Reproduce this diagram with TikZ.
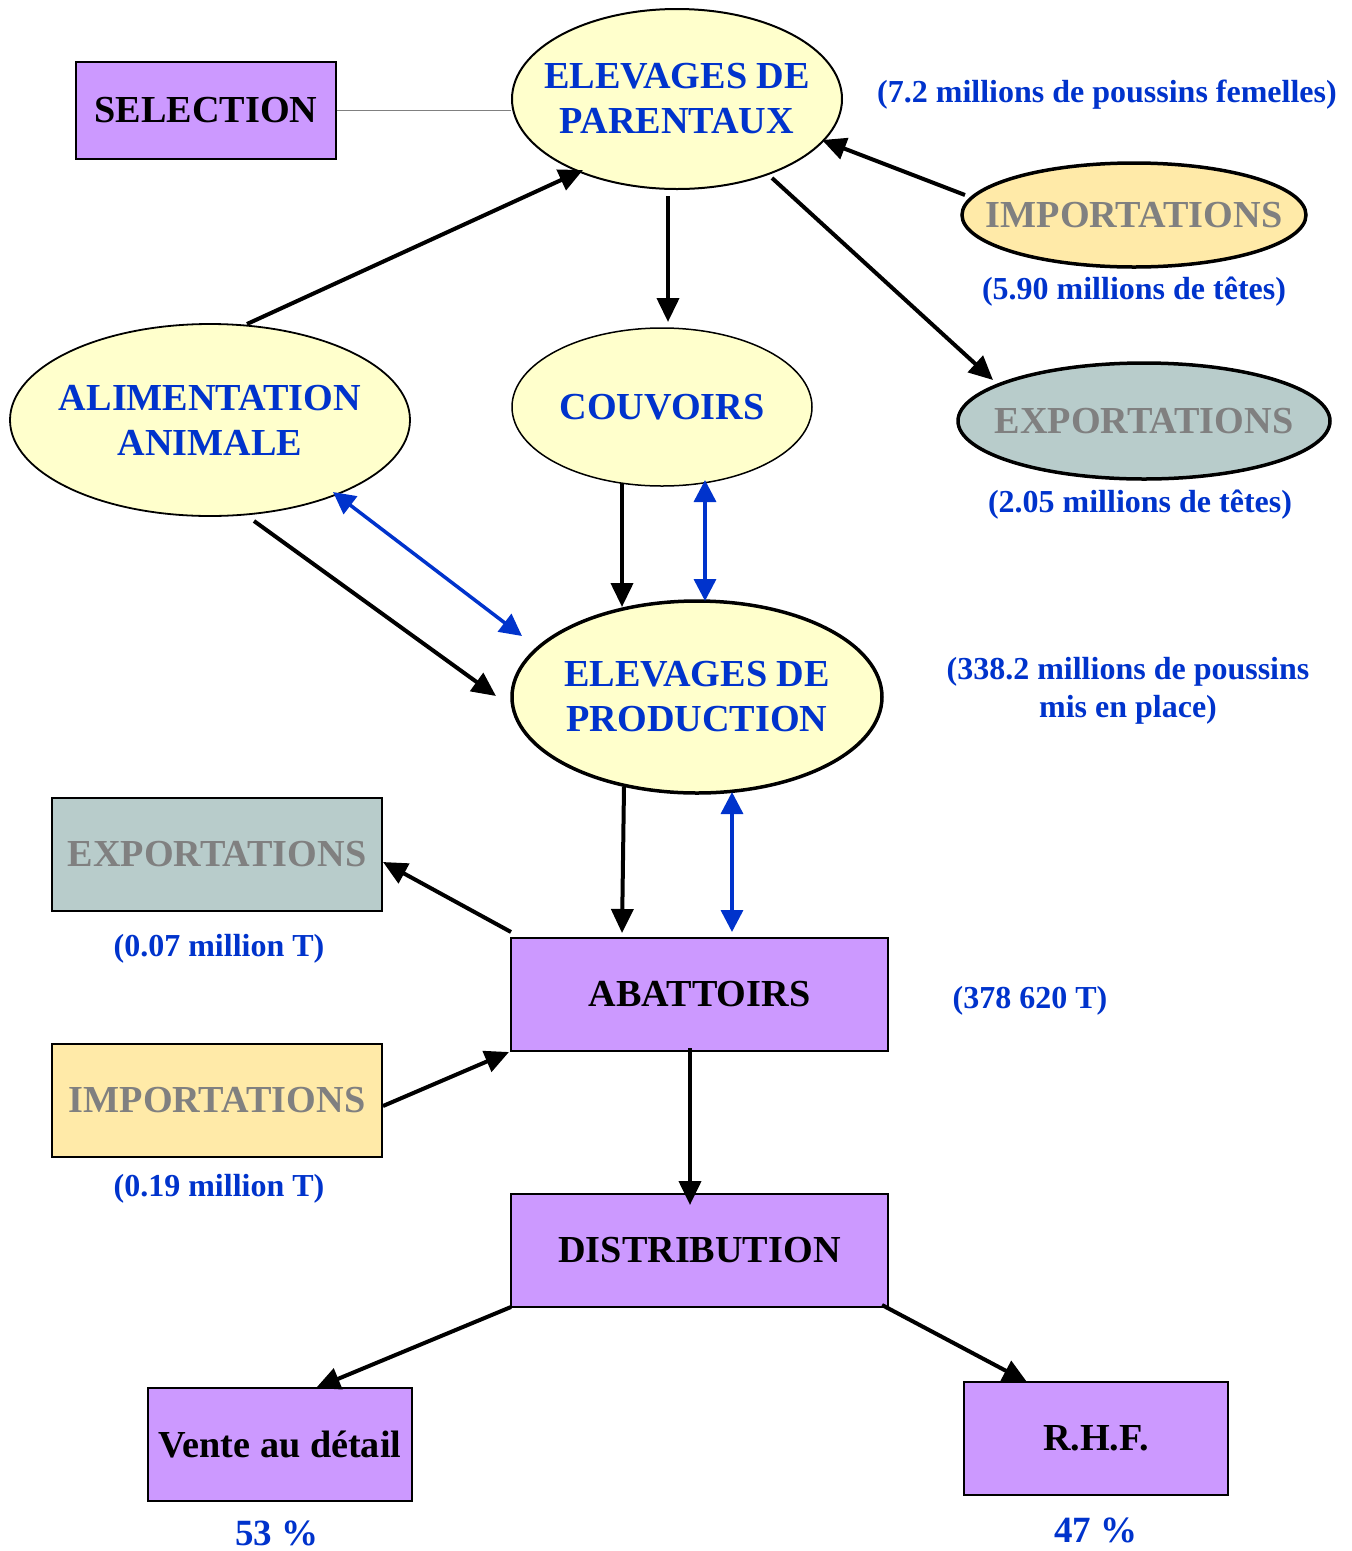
\documentclass[tikz,border=0pt]{standalone}
\usepackage{fontspec}
\setmainfont{Liberation Serif}
\usetikzlibrary{shapes.geometric,arrows.meta,calc}
\definecolor{tblue}{HTML}{0033CC}
\definecolor{lyellow}{HTML}{FFFFCC}
\definecolor{impcol}{HTML}{FFEAA8}
\definecolor{expcol}{HTML}{B8CCCB}
\definecolor{lila}{HTML}{CC99FF}
\definecolor{gtext}{HTML}{808080}
\begin{document}
\begin{tikzpicture}[x=1pt,y=-1pt,
  big/.style={font=\fontsize{38.2}{45}\selectfont\bfseries, align=center},
  ann/.style={font=\fontsize{32}{38}\selectfont\bfseries, text=tblue, align=center, inner sep=0pt},
  pct/.style={font=\fontsize{37}{45}\selectfont\bfseries, text=tblue, inner sep=0pt},
  ell/.style={ellipse, draw=black, inner sep=0pt},
  box/.style={rectangle, draw=black, line width=1.8pt, inner sep=0pt, fill=lila, big},
  arr/.style={line width=4pt, -{Triangle[length=24pt,width=22pt]}},
  barr/.style={line width=3.5pt, draw=tblue, {Triangle[length=22pt,width=22pt]}-{Triangle[length=22pt,width=22pt]}}]
\useasboundingbox (0,0) rectangle (1352,1551);

% nodes
\node[box, minimum width=260pt, minimum height=97pt] (sel) at (206,110.5) {SELECTION};
\node[ell, fill=lyellow, line width=2pt, minimum width=330pt, minimum height=180pt,
  label={[big,text=tblue]center:ELEVAGES DE\\PARENTAUX}] (par) at (677,99) {};
\node[ell, fill=impcol, line width=3.5pt, minimum width=344pt, minimum height=104pt,
  label={[big,text=gtext]center:IMPORTATIONS}] (imp) at (1134,215) {};
\node[ell, fill=expcol, line width=3.5pt, minimum width=372pt, minimum height=116pt,
  label={[big,text=gtext]center:EXPORTATIONS}] (exp) at (1144,421) {};
\node[ell, fill=lyellow, line width=1.8pt, minimum width=400pt, minimum height=192pt,
  label={[big,text=tblue]center:ALIMENTATION\\ANIMALE}] (alim) at (210,420) {};
\node[ell, fill=lyellow, line width=1.5pt, minimum width=300pt, minimum height=158pt,
  label={[big,text=tblue]center:COUVOIRS}] (couv) at (662,407) {};
\node[ell, fill=lyellow, line width=3.5pt, minimum width=370pt, minimum height=192pt,
  label={[big,text=tblue]center:ELEVAGES DE\\PRODUCTION}] (prod) at (697,697) {};

\node[box, fill=expcol, text=gtext, minimum width=330pt, minimum height=113pt] (exr) at (217,854.5) {EXPORTATIONS};
\node[box, minimum width=377pt, minimum height=113pt] (aba) at (699.5,994.5) {ABATTOIRS};
\node[box, fill=impcol, text=gtext, minimum width=330pt, minimum height=113pt] (imr) at (217,1100.5) {IMPORTATIONS};
\node[box, minimum width=377pt, minimum height=113pt] (dist) at (699.5,1250.5) {DISTRIBUTION};
\node[box, minimum width=264pt, minimum height=113pt] (vente) at (280,1444.5) {Vente au détail};
\node[box, minimum width=264pt, minimum height=113pt] (rhf) at (1096,1438.5) {R.H.F.};

% annotations
\node[ann] (a1) at (1107,95) {(7.2 millions de poussins femelles)};
\node[ann] (a2) at (1134,292) {(5.90 millions de têtes)};
\node[ann] (a3) at (1140,505) {(2.05 millions de têtes)};
\node[ann] (a4) at (1128,691) {(338.2 millions de poussins\\mis en place)};
\node[ann] (a5) at (219,949) {(0.07 million T)};
\node[ann] (a6) at (1030,1001) {(378 620 T)};
\node[ann] (a7) at (219,1189) {(0.19 million T)};
\node[pct] (p1) at (277,1533) {53 \%};
\node[pct] (p2) at (1096,1530) {47 \%};

% connectors
\draw[line width=1.5pt, draw=gray] (sel.east) -- (sel.east -| par.west);
\draw[arr] ($(alim)+(37,-96)$) -- ($(par)+(-94,71)$);
\draw[arr] ($(par)+(-9,97)$) -- ($(couv)+(6,-85)$);
\draw[arr] ($(imp)+(-169,-20)$) -- ($(par)+(145,41)$);
\draw[arr] ($(par)+(95,79)$) -- ($(exp)+(-151,-41)$);
\draw[arr] ($(couv)+(-40,76)$) -- ($(prod)+(-75,-90)$);
\draw[barr] ($(couv)+(43,73)$) -- ($(prod)+(8,-96)$);
\draw[barr] ($(alim)+(123,72)$) -- ($(prod)+(-175,-61)$);
\draw[arr] ($(alim)+(44,101)$) -- ($(prod)+(-201,-1)$);
\draw[arr] ($(prod)+(-73,90)$) -- ($(aba)+(-77.5,-61.5)$);
\draw[barr] ($(prod)+(35,95)$) -- ($(aba)+(32.5,-62.5)$);
\draw[arr] ($(aba)+(-188.5,-62.5)$) -- ($(exr)+(166,7.5)$);
\draw[arr] ($(imr)+(166,5.5)$) -- ($(aba)+(-190.5,57.5)$);
\draw[arr] ($(aba)+(-9.5,53.5)$) -- ($(dist)+(-9.5,-45.5)$);
\draw[arr] ($(dist)+(-188.5,56.5)$) -- ($(vente)+(36,-56.5)$);
\draw[arr] ($(dist)+(182.5,54.5)$) -- ($(rhf)+(-69,-56.5)$);
\end{tikzpicture}
\end{document}
